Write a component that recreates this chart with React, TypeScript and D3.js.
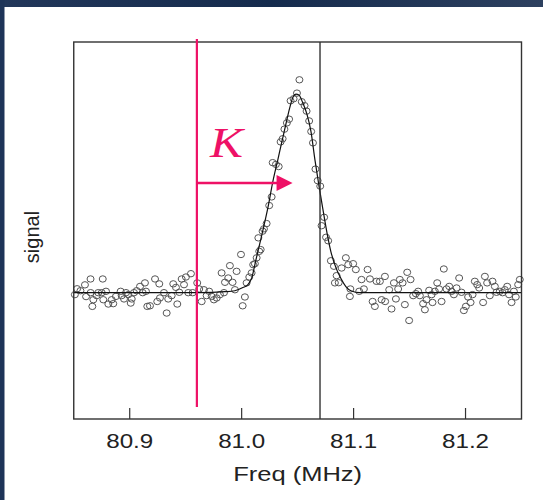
import React from "react";
import * as d3 from "d3";

// Measured points: frequency (MHz) and signal (arbitrary units, baseline 0, peak ~100)
const pointFreq = [
  80.851, 80.853, 80.856, 80.860, 80.861, 80.865, 80.8651, 80.8675, 80.8666, 80.8705,
  80.8719, 80.8759, 80.875, 80.8764, 80.8788, 80.8809, 80.8839, 80.8853, 80.8877, 80.8919,
  80.8928, 80.8949, 80.8967, 80.8987, 80.9009, 80.9018, 80.9038, 80.9062, 80.9092, 80.9116,
  80.9136, 80.9145, 80.9157, 80.9181, 80.9226, 80.9246, 80.9264, 80.927, 80.9306, 80.933,
  80.9344, 80.9375, 80.9389, 80.9413, 80.9425, 80.9443, 80.9464, 80.9485, 80.9502, 80.9523,
  80.9547, 80.9562, 80.9603, 80.9621, 80.9643, 80.9663, 80.9687, 80.971, 80.9732, 80.9752,
  80.9777, 80.9806, 80.9821, 80.9842, 80.9851, 80.988, 80.9895, 80.9919, 80.994, 80.9955,
  80.9994, 81.0009, 81.0029, 81.0044, 81.0068, 81.0089, 81.0103, 81.0134, 81.0157, 81.017,
  81.0149, 81.0187, 81.0199, 81.0223, 81.0246, 81.0268, 81.0277, 81.0306, 81.0331, 81.0348,
  81.0366, 81.0382, 81.0404, 81.0424, 81.0437, 81.0464, 81.0494, 81.0516, 81.0537, 81.0562,
  81.058, 81.0603, 81.0621, 81.0637, 81.0659, 81.0679, 81.0702, 81.0737, 81.0714, 81.0754,
  81.0773, 81.0797, 81.0824, 81.0833, 81.0848, 81.0867, 81.0893, 81.0931, 81.0952, 81.0971,
  81.0996, 81.102, 81.105, 81.1071, 81.1092, 81.1125, 81.1146, 81.117, 81.119, 81.1205,
  81.1235, 81.125, 81.128, 81.1282, 81.1318, 81.1339, 81.136, 81.1378, 81.1398, 81.1413,
  81.1438, 81.1458, 81.1479, 81.1496, 81.1509, 81.1532, 81.1556, 81.1577, 81.1592, 81.1621,
  81.1637, 81.1652, 81.1675, 81.1697, 81.1705, 81.1726, 81.1747, 81.1764, 81.1786, 81.1806,
  81.183, 81.1854, 81.1875, 81.1896, 81.192, 81.1943, 81.1964, 81.1985, 81.2003, 81.2023,
  81.2045, 81.2063, 81.2083, 81.2104, 81.2122, 81.2157, 81.2173, 81.2193, 81.2217, 81.2241,
  81.2262, 81.2277, 81.2306, 81.2331, 81.2351, 81.2372, 81.2389, 81.2411, 81.2432, 81.2449,
  81.247, 81.2485, 81.0118, 81.0967,
];
const pointSignal = [
  -1, 2, 1, 4, -2, 7, 0, -3.6, -7, -1.5,
  0, 7, 0, -3.6, 0.7, -5.8, -3.6, -5.6, -1.9, 0.7,
  -1.5, -3.2, 0, -1, -5.3, -3.2, 0, 1, 3.2, 0,
  5, 0.7, -7, -6.7, 7, -4.5, 4.5, -2.7, 0, -10.4,
  -3.2, -1.5, 4.5, 2.7, -5.8, 0.2, 7, 4.1, 8, 0,
  9.7, 0, 5, 1.9, -4.5, 1.5, -1.5, 0.7, -1.9, -3.6,
  -2.7, -1, 10.1, 0, 5.3, 7.5, 13.8, 5.3, 1.5, 10.9,
  19.5, -6.7, -2.2, 5, 8, 10.1, 14.3, 17.8, 21.1, 22,
  28, 31.4, 32.6, 35.3, 44.5, 48.9, 66.4, 65.5, 64.4, 77,
  78.6, 83.5, 86.7, 88.6, 98, 99, 101.9, 108.7, 97.5, 95.5,
  92.7, 87.7, 82.3, 76.5, 63.1, 57.2, 54.4, 38.5, 34.2, 28.3,
  26.5, 16.3, 13.5, 5, 8.7, 5.1, 12.6, 17.8, 14.3, 1.9,
  14.8, 11.8, 0.7, 6.7, 1.9, 11.8, 7, -4.5, -7, 5.8,
  5.8, -3.6, 8.3, -4.5, 1.5, -8.3, 5, -3.2, 1.9, 6.7,
  5, -6.1, 10.4, -14.2, 6.7, -1.5, -0.5, 0.7, -1.5, -5.6,
  -8.7, -3.6, 1.2, -1, -5, 0.7, 5, 1.9, -4.5, 12.1,
  1.9, 3.2, 0.7, -1, 2.4, 7.5, 0.2, -9.1, -7, -2.2,
  -5, -1, 5.8, 4.1, 2.4, -5, 8.3, 5, -1.5, 5.8,
  3.2, 0.2, 0.7, 0, 1.5, 3.2, -1, -5, 0.7, -2.2,
  4.1, 6.7, 14.8, -1.9,
];

// Fitted curve
const fitFreq = [
  80.85, 80.9627, 80.985, 80.9939, 81.0011, 81.0056, 81.0091, 81.0128, 81.0181, 81.0235,
  81.0279, 81.0324, 81.036, 81.0395, 81.0431, 81.0458, 81.0485, 81.0512, 81.0547, 81.0583,
  81.0619, 81.0654, 81.069, 81.0726, 81.0762, 81.0797, 81.0842, 81.0887, 81.0931, 81.0976,
  81.1056, 81.25,
];
const fitSignal = [
  0, 0, 0.5, 1, 2.6, 4.1, 7.7, 16.9, 29.7, 43.5,
  56.8, 68.1, 77.3, 86, 94.7, 99.8, 101.4, 100.9, 96.8, 91.2,
  82.4, 68.1, 54.8, 42.5, 30.7, 21, 12.8, 7.2, 3.1, 1,
  0, 0,
];

const xTicks = [80.9, 81.0, 81.1, 81.2];
const xDomain = [80.85, 81.25];
const yDomain = [-64.5, 128];
const markerK = 80.96; // pink marker line
const markerRes = 81.07; // black vertical line
const arrowEnd = 81.0455;
const xLabel = "Freq (MHz)";
const yLabel = "signal";
const kLabel = "K";

const PINK = "#ee1166";

export default function App() {
  const left = 73.75, right = 521.5, top = 42, bottom = 419;
  const x = d3.scaleLinear().domain(xDomain).range([left, right]);
  const y = d3.scaleLinear().domain(yDomain).range([bottom, top]);

  const pts = pointFreq.map((f, i) => [f, pointSignal[i]] as [number, number]);
  const fit = fitFreq.map((f, i) => [f, fitSignal[i]] as [number, number]);
  const line = d3
    .line<[number, number]>()
    .x((d) => x(d[0]))
    .y((d) => y(d[1]))
    .curve(d3.curveMonotoneX);

  const ay = 183;
  const ax0 = x(markerK);
  const ax1 = x(arrowEnd);

  return (
    <svg
      width={543}
      height={500}
      style={{ position: "absolute", left: 0, top: 0, display: "block" }}
      fontFamily="'Liberation Sans', Arial, sans-serif"
    >
      <defs>
        <linearGradient id="topbar" x1="0" x2="1" y1="0" y2="0">
          <stop offset="0" stopColor="#22375a" />
          <stop offset="0.5" stopColor="#152b4d" />
          <stop offset="1" stopColor="#2d405f" />
        </linearGradient>
      </defs>
      <rect x={0} y={0} width={543} height={500} fill="#ffffff" />
      <rect x={0} y={0} width={543} height={7} fill="url(#topbar)" />
      <rect x={0} y={0} width={4.5} height={500} fill="#1e3458" />

      {/* data points */}
      <g>
        {pts.map((d, i) => (
          <ellipse
            key={i}
            cx={x(d[0])}
            cy={y(d[1])}
            rx={3.5}
            ry={3.2}
            fill="none"
            stroke="#555"
            strokeWidth={1}
          />
        ))}
      </g>

      {/* fitted curve */}
      <path d={line(fit) || ""} fill="none" stroke="#111" strokeWidth={1.2} />

      {/* black resonance line */}
      <line x1={x(markerRes)} x2={x(markerRes)} y1={top} y2={bottom} stroke="#333" strokeWidth={1.4} />

      {/* box */}
      <rect x={left} y={top} width={right - left} height={bottom - top} fill="none" stroke="#333" strokeWidth={1.4} />

      {/* x ticks (inward) */}
      {xTicks.map((t) => (
        <g key={t}>
          <line x1={x(t)} x2={x(t)} y1={bottom} y2={bottom - 11} stroke="#333" strokeWidth={1.2} />
          <text
            x={x(t) - 23.5}
            y={448}
            fontSize={19.5}
            fill="#222"
            textLength={47}
            lengthAdjust="spacingAndGlyphs"
          >
            {d3.format(".1f")(t)}
          </text>
        </g>
      ))}
      <text
        x={(left + right) / 2 - 64.5}
        y={481}
        fontSize={20}
        fill="#222"
        textLength={129}
        lengthAdjust="spacingAndGlyphs"
      >
        {xLabel}
      </text>
      <text
        transform={`translate(39, 237) rotate(-90)`}
        textAnchor="middle"
        fontSize={20}
        fill="#222"
      >
        {yLabel}
      </text>

      {/* pink marker */}
      <line x1={ax0} x2={ax0} y1={39} y2={407} stroke={PINK} strokeWidth={2.2} />
      <line x1={ax0} x2={ax1 - 14} y1={ay} y2={ay} stroke={PINK} strokeWidth={2.5} />
      <path d={`M${ax1},${ay} L${ax1 - 16},${ay - 8} L${ax1 - 16},${ay + 8} Z`} fill={PINK} />
      <text
        x={210}
        y={157}
        fontFamily="'Liberation Serif', 'Times New Roman', serif"
        fontStyle="italic"
        fontSize={42}
        fill={PINK}
        textLength={33}
        lengthAdjust="spacingAndGlyphs"
      >
        {kLabel}
      </text>
    </svg>
  );
}
